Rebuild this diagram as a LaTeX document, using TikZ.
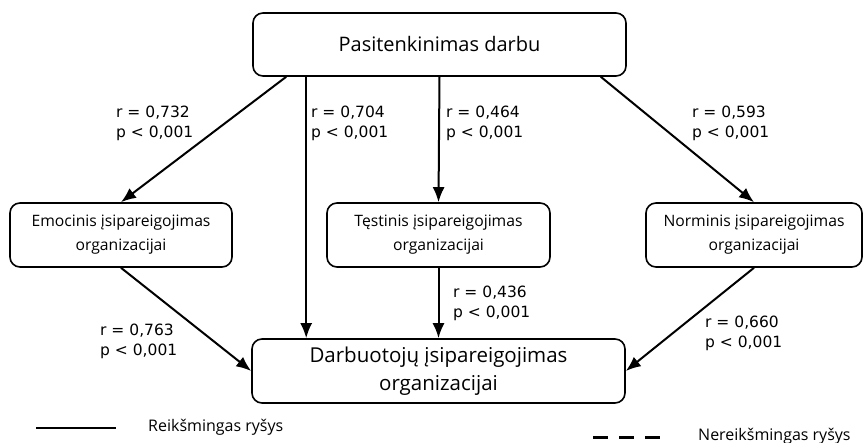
\documentclass[tikz,border=0pt]{standalone}
\usepackage{fontspec}
\setmainfont{Open Sans}
\newfontfamily\statfont{DejaVu Sans}
\usetikzlibrary{arrows.meta}
\tikzset{
  factor/.style={draw, line width=1.6pt, rounded corners=10pt, align=center,
    font=\fontsize{15.7}{24}\selectfont},
  link/.style={line width=2pt, -{Latex[length=15pt,width=12pt]}},
  stat/.style={align=left, font=\statfont\fontsize{15.5}{20}\selectfont, inner sep=0pt},
  legendtext/.style={anchor=west, inner sep=0pt, font=\fontsize{16}{18}\selectfont}
}
\begin{document}
\begin{tikzpicture}[x=1pt, y=-1pt]
    \useasboundingbox (0,0) rectangle (863,443);

    % Boxes
    \node[factor, minimum width=373pt, minimum height=63pt, font=\fontsize{20}{25}\selectfont] (satis) at (439.5,44.5) {Pasitenkinimas darbu};
    \node[factor, minimum width=222pt, minimum height=64pt] (emo) at (121,235) {Emocinis įsipareigojimas\\organizacijai};
    \node[factor, minimum width=223pt, minimum height=64pt] (cont) at (438.5,235) {Tęstinis įsipareigojimas\\organizacijai};
    \node[factor, minimum width=216pt, minimum height=64pt] (norm) at (754,235) {Norminis įsipareigojimas\\organizacijai};
    \node[factor, minimum width=373pt, minimum height=64pt, font=\fontsize{20.5}{28}\selectfont] (commit) at (438.5,371) {Darbuotojų įsipareigojimas\\organizacijai};

    % Arrows
    \draw[link] ([xshift=34pt]satis.south west) -- (emo.north);
    \draw[link] ([xshift=54pt]satis.south west) -- ([xshift=55pt]commit.north west);
    \draw[link] (satis.south) -- (cont.north);
    \draw[link] ([xshift=-26pt]satis.south east) -- (norm.north);
    \draw[link] (emo.south) -- (commit.west);
    \draw[link] (cont.south) -- (commit.north);
    \draw[link] (norm.south) -- (commit.east);

    % Correlations
    \node[stat, anchor=west] (s1) at (116,123) {r = 0,732\\p < 0,001};
    \node[stat, anchor=west] (s2) at (311,123) {r = 0,704\\p < 0,001};
    \node[stat, anchor=west] (s3) at (446,123) {r = 0,464\\p < 0,001};
    \node[stat, anchor=west] (s4) at (692,123) {r = 0,593\\p < 0,001};
    \node[stat, anchor=west] (s5) at (100,341) {r = 0,763\\p < 0,001};
    \node[stat, anchor=west] (s6) at (453,303) {r = 0,436\\p < 0,001};
    \node[stat, anchor=west] (s7) at (705,333) {r = 0,660\\p < 0,001};

    % Legend
    \coordinate (solidA) at (36,428);
    \coordinate (solidB) at (116,428);
    \draw[line width=2.8pt] (solidA) -- (solidB);
    \node[legendtext] (sig) at (148,427) {Reikšmingas ryšys};
    \coordinate (dashA) at (593,438);
    \coordinate (dashB) at (660,438);
    \draw[line width=3pt, dash pattern=on 15pt off 11pt] (dashA) -- (dashB);
    \node[legendtext] (nonsig) at (698,436) {Nereikšmingas ryšys};
\end{tikzpicture}
\end{document}
